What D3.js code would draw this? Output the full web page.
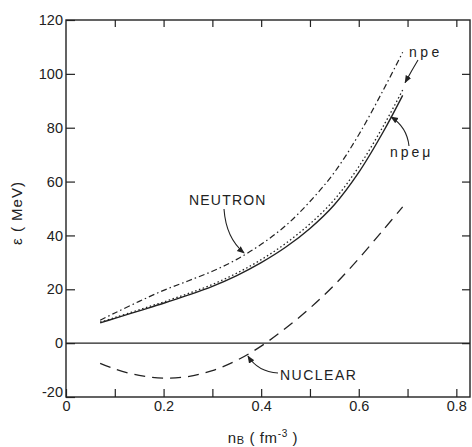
<!DOCTYPE html>
<html>
<head>
<meta charset="utf-8">
<script src="https://cdn.jsdelivr.net/npm/d3@7"></script>
<style>
  body { margin: 0; background: #fff; }
  svg text { font-family: "Liberation Sans", Arial, sans-serif; fill: #222; }
</style>
</head>
<body>
<svg id="chart" width="472" height="447"></svg>
<script>
// --- Data ---
const nB = [0.07, 0.1, 0.15, 0.2, 0.25, 0.3, 0.35, 0.4, 0.45, 0.5, 0.55, 0.6, 0.65, 0.69];
const npemu   = [7.5, 9.2, 12.0, 14.8, 17.8, 21.1, 25.1, 29.9, 35.6, 42.6, 51.4, 63.4, 78.4, 92];
const npe     = [7.8, 9.5, 12.4, 15.3, 18.4, 21.8, 26.0, 31.0, 37.0, 44.3, 53.3, 65.5, 80.5, 94];
const neutron = [8.5, 11.2, 15.5, 19.6, 23.1, 26.7, 31.1, 36.7, 43.6, 52.6, 63.4, 77.4, 93.9, 108];
const nuclear = [-7.5, -9.6, -12.0, -13.0, -12.4, -10.2, -6.4, -1.1, 5.5, 13.0, 21.6, 31.4, 42.0, 50.6];

const xTicks = [0, 0.1, 0.2, 0.3, 0.4, 0.5, 0.6, 0.7, 0.8];
const xTickLabels = ["0", "", "0.2", "", "0.4", "", "0.6", "", "0.8"];
const yTicks = [-20, 0, 20, 40, 60, 80, 100, 120];
const yTickLabels = ["-20", "0", "20", "40", "60", "80", "100", "120"];

// --- Chart setup ---
const svg = d3.select('#chart');
const ink = '#222';

const x = d3.scaleLinear().domain([0, 0.828]).range([66, 470]);
const y = d3.scaleLinear().domain([-20, 120]).range([397, 20]);

svg.append('defs').append('marker')
    .attr('id', 'arrow')
    .attr('viewBox', '0 0 10 10')
    .attr('refX', 9).attr('refY', 5)
    .attr('markerWidth', 7).attr('markerHeight', 7)
    .attr('orient', 'auto')
    .append('path')
    .attr('d', 'M0,1 L10,5 L0,9 Z')
    .attr('fill', ink);

// Axes: ticks point inward, frame drawn separately
svg.append('g')
    .attr('transform', `translate(0, ${y(-20)})`)
    .call(d3.axisBottom(x).tickValues(xTicks).tickSize(-8).tickSizeOuter(0).tickPadding(4)
        .tickFormat((d, i) => xTickLabels[i]));
const left = svg.append('g')
    .attr('transform', `translate(${x(0)}, 0)`)
    .call(d3.axisLeft(y).tickValues(yTicks).tickSize(-9).tickSizeOuter(0).tickPadding(3)
        .tickFormat((d, i) => yTickLabels[i]));
svg.append('g')
    .attr('transform', `translate(0, ${y(120)})`)
    .call(d3.axisTop(x).tickValues(xTicks.slice(1)).tickSize(-7).tickSizeOuter(0).tickFormat(''));
svg.append('g')
    .attr('transform', `translate(${x(0.828)}, 0)`)
    .call(d3.axisRight(y).tickValues(yTicks.slice(1, -1)).tickSize(-8).tickSizeOuter(0).tickFormat(''));

svg.selectAll('.domain').remove();
svg.selectAll('.tick line').attr('stroke', ink).attr('stroke-width', 1.2);
svg.selectAll('.tick text').attr('font-size', 14.5).style('fill', ink);

// nudge the -20 label up so it clears the x "0"
left.selectAll('.tick text').filter(d => d === -20).attr('dy', '-0.05em');

// frame
svg.append('rect')
    .attr('x', x(0)).attr('y', y(120))
    .attr('width', x(0.828) - x(0)).attr('height', y(-20) - y(120))
    .attr('fill', 'none').attr('stroke', ink).attr('stroke-width', 1.4);

// zero line
svg.append('line')
    .attr('x1', x(0)).attr('x2', x(0.828))
    .attr('y1', y(0)).attr('y2', y(0))
    .attr('stroke', ink).attr('stroke-width', 1.2);

// --- Curves ---
const line = d3.line()
    .x(d => x(d[0]))
    .y(d => y(d[1]))
    .curve(d3.curveCatmullRom.alpha(0.5));

function drawCurve(vals, dash, width) {
    svg.append('path')
        .datum(nB.map((v, i) => [v, vals[i]]))
        .attr('d', line)
        .attr('fill', 'none')
        .attr('stroke', ink)
        .attr('stroke-width', width)
        .attr('stroke-dasharray', dash);
}

drawCurve(npemu, null, 1.4);
drawCurve(npe, '1.5,2.5', 1.3);
drawCurve(neutron, '6,3,1.5,3', 1.2);
drawCurve(nuclear, '11,7', 1.3);

// --- Labels and arrows ---
function label(txt, px, py, size, spacing) {
    svg.append('text')
        .attr('x', px).attr('y', py)
        .attr('font-size', size)
        .attr('letter-spacing', spacing || 0)
        .text(txt);
}

function arrow(d) {
    svg.append('path')
        .attr('d', d)
        .attr('fill', 'none')
        .attr('stroke', ink)
        .attr('stroke-width', 1.1)
        .attr('marker-end', 'url(#arrow)');
}

label('npe', 409, 57, 14, 3.5);
arrow(`M418,60 Q412,70 ${x(0.695)},${y(96) - 2}`);

label('npeμ', 390, 157, 14, 3);
arrow(`M409,146 Q407,127 ${x(0.662) + 2},${y(84)}`);

label('NEUTRON', 189, 205, 14, 1.2);
arrow(`M224,209 Q226,238 ${x(0.365)},${y(33.5)}`);

label('NUCLEAR', 280, 380, 14, 1.5);
arrow(`M278,373 Q258,372 ${x(0.375) - 1},${y(-4.8)}`);

// axis titles
svg.append('text')
    .attr('transform', 'translate(22, 213) rotate(-90)')
    .attr('text-anchor', 'middle')
    .attr('font-size', 15)
    .attr('letter-spacing', 1)
    .text('ε ( MeV)');

const xt = svg.append('text')
    .attr('x', 263).attr('y', 443)
    .attr('text-anchor', 'middle')
    .attr('font-size', 15)
    .attr('letter-spacing', 0.6);
xt.append('tspan').text('n');
xt.append('tspan').attr('font-size', 11).attr('dy', 1).text('B');
xt.append('tspan').attr('dy', -1).text(' ( fm');
xt.append('tspan').attr('font-size', 10).attr('dy', -6).text('-3');
xt.append('tspan').attr('dy', 6).text(' )');
</script>
</body>
</html>
